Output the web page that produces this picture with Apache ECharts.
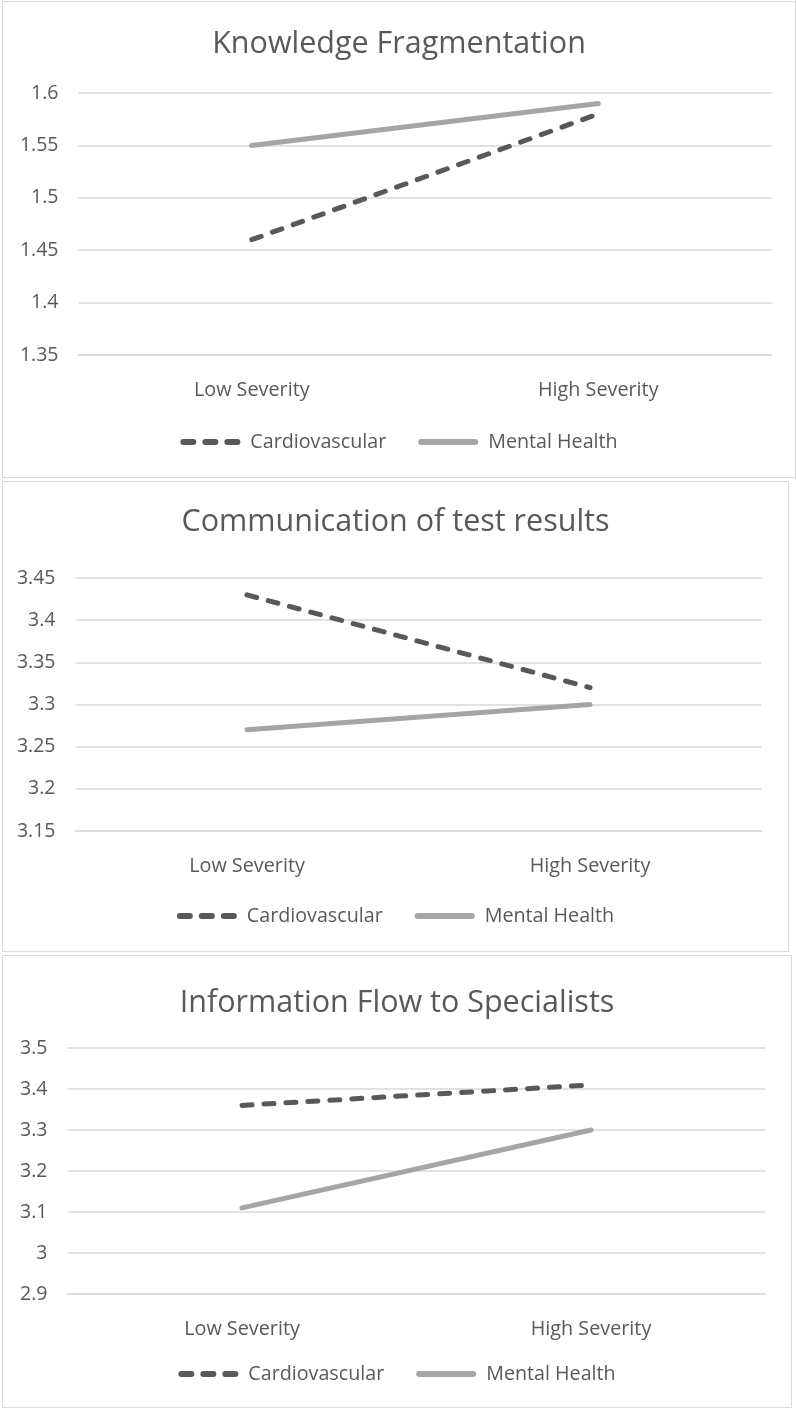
<!DOCTYPE html>
<html>
<head>
<meta charset="utf-8">
<script src="https://cdn.jsdelivr.net/npm/echarts@6/dist/echarts.min.js"></script>
<style>
html,body{margin:0;padding:0;background:#fff;width:797px;height:1410px;overflow:hidden;}
.panel{position:absolute;border:1px solid #d9d9d9;background:#fff;}
</style>
</head>
<body>
<div id="c1" class="panel" style="left:2px;top:1px;width:792px;height:475px;"></div>
<div id="c2" class="panel" style="left:2px;top:481px;width:785px;height:469px;"></div>
<div id="c3" class="panel" style="left:2px;top:955px;width:788px;height:451px;"></div>
<script>
const categories = ['Low Severity', 'High Severity'];
const seriesNames = ['Cardiovascular', 'Mental Health'];

const titles = ['Knowledge Fragmentation', 'Communication of test results', 'Information Flow to Specialists'];

const kfCardio = [1.46, 1.58];
const kfMental = [1.55, 1.59];
const ctCardio = [3.43, 3.32];
const ctMental = [3.27, 3.30];
const ifCardio = [3.36, 3.41];
const ifMental = [3.11, 3.30];

const yMin = [1.35, 3.15, 2.9];
const yMax = [1.6, 3.45, 3.5];
const yStep = [0.05, 0.05, 0.1];

const FONT = 'Open Sans';
const TXT = '#595959';
const DARK = '#595959';
const LIGHT = '#a5a5a5';

const dashIcon = 'path://M3,0H13A3,3 0 0 1 13,6H3A3,3 0 0 1 3,0Z M25,0H35A3,3 0 0 1 35,6H25A3,3 0 0 1 25,0Z M47,0H57A3,3 0 0 1 57,6H47A3,3 0 0 1 47,0Z';
const solidIcon = 'path://M3,0H57A3,3 0 0 1 57,6H3A3,3 0 0 1 3,0Z';

const layouts = [
  {el:'c1', titleTop:22, grid:{left:75.5, top:91, width:693, height:262}, legendTop:425},
  {el:'c2', titleTop:20, grid:{left:72.5, top:96, width:686, height:253}, legendTop:419},
  {el:'c3', titleTop:27, grid:{left:64.5, top:92, width:698, height:246}, legendTop:403}
];
const dataSets = [[kfCardio, kfMental],[ctCardio, ctMental],[ifCardio, ifMental]];

layouts.forEach((L, i) => {
  const chart = echarts.init(document.getElementById(L.el), null, {renderer:'canvas'});
  chart.setOption({
    animation:false,
    title:{text:titles[i], left:'center', top:L.titleTop,
      textStyle:{fontFamily:FONT, fontSize:30.5, fontWeight:'normal', color:TXT}},
    legend:{
      data:[
        {name:seriesNames[0], icon:dashIcon, itemStyle:{color:DARK}},
        {name:seriesNames[1], icon:solidIcon, itemStyle:{color:LIGHT}}
      ],
      top:L.legendTop, left:'center',
      itemWidth:62, itemHeight:6, itemGap:32,
      textStyle:{fontFamily:FONT, fontSize:19.7, color:TXT, padding:[0,0,0,4]}
    },
    grid:L.grid,
    xAxis:{
      type:'category', data:categories, boundaryGap:true,
      axisLine:{show:true, lineStyle:{color:'#d9d9d9', width:1.5}},
      axisTick:{show:false},
      axisLabel:{fontFamily:FONT, fontSize:19.8, color:TXT, margin:25}
    },
    yAxis:{
      type:'value', min:yMin[i], max:yMax[i], interval:yStep[i],
      axisLine:{show:false}, axisTick:{show:false},
      splitLine:{lineStyle:{color:'#d9d9d9', width:1.5}},
      axisLabel:{fontFamily:FONT, fontSize:19.5, color:TXT, margin:20,
        formatter:v => String(parseFloat(v.toFixed(2)))}
    },
    series:[
      {name:seriesNames[0], type:'line', data:dataSets[i][0], symbol:'none',
       lineStyle:{color:DARK, width:5, type:[10,12], cap:'round'},
       itemStyle:{color:DARK}},
      {name:seriesNames[1], type:'line', data:dataSets[i][1], symbol:'none',
       lineStyle:{color:LIGHT, width:5, cap:'round'},
       itemStyle:{color:LIGHT}}
    ]
  });
});
</script>
</body>
</html>
